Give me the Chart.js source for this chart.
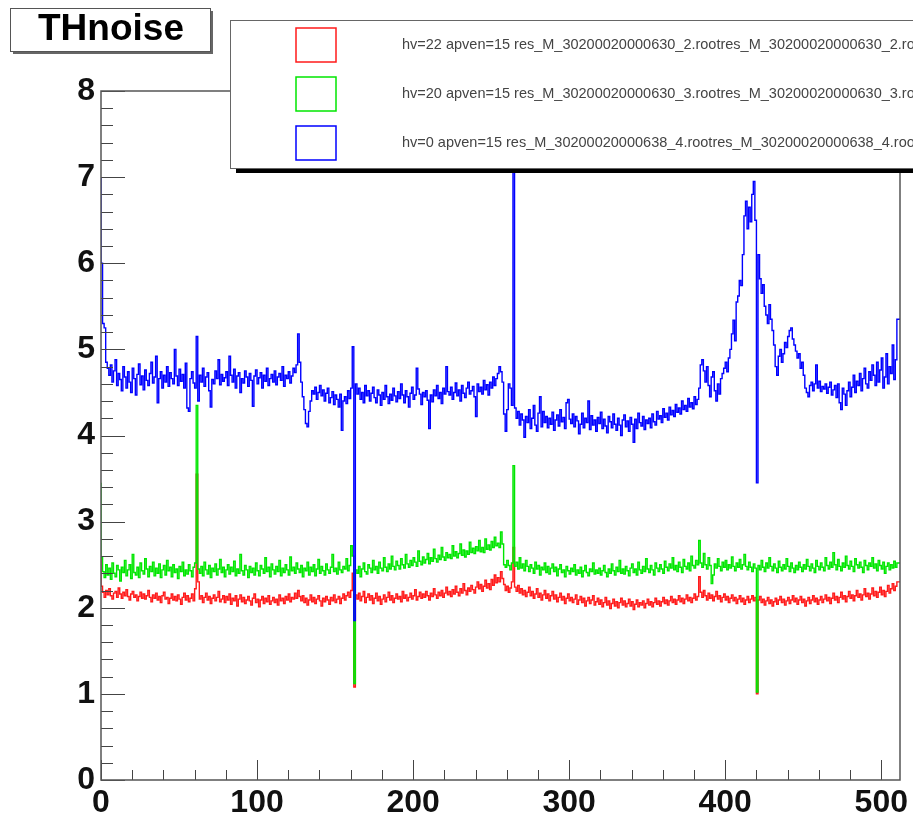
<!DOCTYPE html>
<html><head><meta charset="utf-8">
<script src="https://cdn.jsdelivr.net/npm/chart.js@4.4.1/dist/chart.umd.min.js"></script>
<style>html,body{margin:0;padding:0;background:#fff;overflow:hidden;}#wrap{position:absolute;left:0;top:0;width:913px;height:814px;}</style>
</head><body><div id="wrap"><canvas id="c" width="913" height="814"></canvas></div>
<script>
const titleText = "THnoise";
const legendLabels = [
  "hv=22 apven=15 res_M_30200020000630_2.rootres_M_30200020000630_2.root",
  "hv=20 apven=15 res_M_30200020000630_3.rootres_M_30200020000630_3.root",
  "hv=0 apven=15 res_M_30200020000638_4.rootres_M_30200020000638_4.root"
];
const xTickValues = [0,100,200,300,400,500];
const yTickValues = [0,1,2,3,4,5,6,7,8];

const redValues = [
2.60,2.25,2.18,2.12,2.20,2.15,2.22,2.14,2.10,2.17,2.19,2.12,2.23,2.16,2.11,2.18,
2.14,2.21,2.13,2.09,2.16,2.19,2.12,2.15,2.08,2.13,2.18,2.11,2.16,2.10,2.14,2.20,
2.12,2.07,2.15,2.11,2.17,2.09,2.13,2.06,2.14,2.18,2.10,2.12,2.05,2.11,2.16,2.09,
2.13,2.08,2.15,2.10,2.04,2.12,2.17,2.09,2.14,2.07,2.11,2.16,2.08,2.22,3.55,2.30,
2.10,2.14,2.06,2.12,2.17,2.09,2.13,2.05,2.11,2.15,2.08,2.12,2.19,2.07,2.10,2.14,
2.06,2.13,2.09,2.16,2.04,2.11,2.08,2.14,2.02,2.10,2.15,2.07,2.12,2.05,2.09,2.13,
2.08,2.03,2.11,2.16,2.06,2.10,2.01,2.09,2.13,2.05,2.11,2.07,2.14,2.04,2.08,2.12,
2.06,2.10,2.03,2.15,2.08,2.11,2.05,2.13,2.09,2.16,2.07,2.12,2.10,2.17,2.11,2.20,
2.13,2.08,2.14,2.06,2.11,2.03,2.09,2.15,2.07,2.12,2.05,2.10,2.14,2.08,2.02,2.11,
2.07,2.13,2.09,2.04,2.12,2.08,2.15,2.06,2.10,2.13,2.05,2.11,2.16,2.09,2.14,2.18,
2.12,2.20,2.40,1.08,2.15,2.10,2.17,2.08,2.13,2.19,2.06,2.12,2.16,2.09,2.14,2.05,
2.11,2.17,2.08,2.13,2.04,2.10,2.15,2.07,2.12,2.18,2.09,2.14,2.06,2.11,2.16,2.10,
2.13,2.07,2.19,2.11,2.15,2.08,2.12,2.17,2.10,2.14,2.21,2.09,2.13,2.18,2.11,2.16,
2.12,2.19,2.14,2.09,2.17,2.13,2.22,2.15,2.11,2.18,2.14,2.20,2.12,2.17,2.24,2.15,
2.19,2.13,2.21,2.16,2.25,2.18,2.14,2.22,2.17,2.28,2.20,2.15,2.23,2.19,2.26,2.21,
2.17,2.24,2.30,2.22,2.27,2.19,2.25,2.32,2.23,2.28,2.21,2.33,2.26,2.38,2.29,2.35,
2.30,2.42,2.34,2.27,2.20,2.25,2.18,2.23,2.30,2.70,2.24,2.19,2.26,2.17,2.22,2.15,
2.20,2.13,2.18,2.24,2.14,2.19,2.11,2.16,2.22,2.12,2.17,2.09,2.15,2.20,2.11,2.16,
2.08,2.14,2.19,2.10,2.15,2.07,2.12,2.17,2.09,2.13,2.05,2.11,2.16,2.08,2.12,2.06,
2.10,2.15,2.04,2.09,2.13,2.06,2.11,2.02,2.08,2.12,2.05,2.09,2.14,2.03,2.07,2.11,
2.04,2.09,2.01,2.06,2.12,2.03,2.08,1.99,2.05,2.10,2.02,2.07,2.00,2.06,2.11,2.03,
2.08,2.01,2.05,2.10,2.02,2.07,1.98,2.04,2.09,2.01,2.06,2.03,2.08,2.00,2.05,2.10,
2.03,2.07,2.01,2.06,2.11,2.04,2.08,2.02,2.07,2.12,2.05,2.09,2.03,2.08,2.13,2.06,
2.10,2.04,2.09,2.14,2.07,2.11,2.05,2.10,2.15,2.08,2.12,2.06,2.11,2.16,2.09,2.13,
2.36,2.18,2.12,2.20,2.14,2.09,2.17,2.11,2.15,2.08,2.13,2.19,2.10,2.14,2.07,2.12,
2.16,2.09,2.13,2.06,2.11,2.15,2.08,2.12,2.05,2.10,2.14,2.07,2.11,2.04,2.09,2.13,
2.06,2.10,2.14,2.08,2.12,1.00,2.09,2.13,2.06,2.10,2.03,2.08,2.12,2.05,2.09,2.02,
2.07,2.11,2.04,2.09,2.13,2.06,2.10,2.03,2.08,2.12,2.05,2.09,2.14,2.07,2.11,2.04,
2.09,2.13,2.06,2.10,2.02,2.08,2.12,2.05,2.09,2.14,2.07,2.11,2.04,2.09,2.13,2.06,
2.10,2.15,2.08,2.12,2.05,2.11,2.17,2.09,2.13,2.06,2.12,2.18,2.10,2.14,2.07,2.13,
2.19,2.11,2.15,2.08,2.14,2.20,2.12,2.16,2.09,2.15,2.22,2.13,2.17,2.10,2.16,2.23,
2.14,2.19,2.12,2.18,2.24,2.15,2.20,2.13,2.19,2.26,2.17,2.22,2.28,2.20,2.25,2.30
];

const greenValues = [
3.45,2.58,2.42,2.35,2.50,2.38,2.46,2.33,2.52,2.40,2.36,2.49,2.44,2.31,2.47,2.41,
2.55,2.37,2.44,2.50,2.34,2.62,2.41,2.38,2.47,2.35,2.52,2.43,2.39,2.57,2.45,2.36,
2.48,2.42,2.53,2.37,2.46,2.40,2.51,2.35,2.44,2.49,2.38,2.55,2.43,2.47,2.36,2.50,
2.41,2.45,2.34,2.48,2.42,2.53,2.37,2.44,2.39,2.50,2.43,2.36,2.47,2.52,4.35,2.45,
2.40,2.48,2.37,2.53,2.44,2.39,2.49,2.35,2.46,2.42,2.51,2.38,2.45,2.56,2.41,2.47,
2.36,2.44,2.50,2.39,2.47,2.42,2.54,2.37,2.45,2.40,2.62,2.43,2.38,2.49,2.44,2.35,
2.48,2.41,2.46,2.38,2.52,2.43,2.37,2.49,2.45,2.40,2.58,2.42,2.47,2.36,2.51,2.44,
2.39,2.48,2.42,2.55,2.37,2.46,2.41,2.50,2.44,2.38,2.59,2.43,2.47,2.40,2.52,2.45,
2.41,2.49,2.36,2.46,2.43,2.53,2.38,2.47,2.42,2.50,2.37,2.45,2.56,2.40,2.48,2.43,
2.38,2.51,2.44,2.40,2.47,2.62,2.42,2.46,2.39,2.53,2.44,2.41,2.48,2.45,2.57,2.43,
2.49,2.72,2.60,1.12,2.44,2.40,2.48,2.36,2.45,2.52,2.42,2.39,2.50,2.46,2.41,2.55,
2.44,2.48,2.40,2.53,2.46,2.43,2.58,2.47,2.42,2.51,2.45,2.60,2.48,2.44,2.54,2.49,
2.45,2.57,2.50,2.46,2.62,2.51,2.47,2.55,2.49,2.58,2.53,2.48,2.66,2.54,2.50,2.59,
2.52,2.56,2.63,2.51,2.58,2.54,2.68,2.57,2.53,2.61,2.56,2.70,2.59,2.55,2.64,2.58,
2.62,2.57,2.72,2.60,2.65,2.58,2.63,2.74,2.61,2.67,2.59,2.66,2.62,2.76,2.64,2.69,
2.63,2.71,2.66,2.78,2.65,2.70,2.64,2.80,2.68,2.73,2.67,2.77,2.70,2.82,2.72,2.75,
2.70,2.88,2.74,2.50,2.47,2.55,2.49,2.44,2.52,3.65,2.48,2.53,2.45,2.58,2.46,2.51,
2.43,2.55,2.48,2.42,2.50,2.46,2.40,2.53,2.45,2.49,2.38,2.47,2.44,2.52,2.41,2.48,
2.39,2.46,2.51,2.42,2.47,2.37,2.45,2.50,2.41,2.44,2.36,2.48,2.43,2.39,2.46,2.42,
2.50,2.38,2.44,2.40,2.47,2.36,2.43,2.49,2.41,2.37,2.45,2.42,2.52,2.39,2.44,2.40,
2.46,2.38,2.43,2.49,2.41,2.36,2.45,2.40,2.51,2.43,2.38,2.47,2.42,2.55,2.40,2.45,
2.39,2.48,2.43,2.37,2.46,2.51,2.41,2.45,2.38,2.53,2.44,2.40,2.48,2.42,2.57,2.45,
2.41,2.49,2.44,2.38,2.52,2.46,2.42,2.50,2.45,2.40,2.54,2.47,2.43,2.51,2.46,2.58,
2.44,2.49,2.42,2.53,2.47,2.41,2.56,2.48,2.45,2.52,2.43,2.60,2.49,2.46,2.55,2.50,
2.78,2.52,2.47,2.63,2.50,2.45,2.58,2.49,2.28,2.38,2.51,2.46,2.57,2.48,2.43,2.53,
2.47,2.55,2.44,2.50,2.46,2.59,2.48,2.43,2.52,2.47,2.56,2.45,2.50,2.62,2.48,2.44,
2.53,2.47,2.42,2.51,2.46,1.02,2.49,2.44,2.55,2.47,2.42,2.52,2.46,2.58,2.48,2.43,
2.51,2.46,2.41,2.54,2.47,2.43,2.50,2.45,2.57,2.48,2.42,2.52,2.46,2.41,2.49,2.44,
2.53,2.47,2.42,2.50,2.45,2.56,2.48,2.43,2.51,2.46,2.41,2.55,2.48,2.44,2.52,2.47,
2.43,2.58,2.49,2.45,2.53,2.47,2.64,2.50,2.44,2.56,2.48,2.43,2.52,2.47,2.60,2.49,
2.45,2.54,2.48,2.42,2.57,2.50,2.46,2.53,2.47,2.41,2.55,2.49,2.44,2.52,2.48,2.58,
2.46,2.51,2.43,2.55,2.49,2.45,2.53,2.40,2.48,2.52,2.44,2.50,2.46,2.54,2.47,2.52
];

const blueValues = [
7.00,6.00,5.30,5.25,4.85,4.78,4.70,4.82,4.62,4.75,4.88,4.58,4.72,4.65,4.52,4.80,
4.68,4.55,4.74,4.62,4.50,4.78,4.66,4.47,4.71,4.83,4.59,4.69,4.53,4.76,4.64,4.58,
4.72,4.85,4.61,4.68,4.92,4.38,4.66,4.74,4.55,4.70,4.62,4.80,4.57,4.73,4.66,4.60,
5.00,4.69,4.58,4.77,4.63,4.71,4.55,4.84,4.32,4.28,4.66,4.74,4.61,4.55,5.15,4.40,
4.70,4.62,4.78,4.57,4.68,4.73,4.52,4.33,4.65,4.60,4.75,4.66,4.88,4.59,4.71,4.63,
4.67,4.74,4.58,4.92,4.70,4.62,4.77,4.55,4.69,4.73,4.50,4.66,4.61,4.75,4.68,4.57,
4.72,4.64,4.34,4.69,4.76,4.60,4.67,4.73,4.55,4.70,4.63,4.78,4.58,4.66,4.71,4.62,
4.75,4.59,4.68,4.72,4.64,4.80,4.57,4.70,4.66,4.74,4.61,4.69,4.78,4.73,4.82,5.18,
4.85,4.62,4.45,4.30,4.14,4.10,4.28,4.40,4.52,4.48,4.56,4.42,4.50,4.58,4.46,4.53,
4.40,4.49,4.55,4.38,4.44,4.51,4.36,4.47,4.42,4.33,4.48,4.06,4.40,4.45,4.37,4.52,
4.43,4.55,5.03,1.85,4.60,4.48,4.55,4.42,4.50,4.38,4.58,4.46,4.52,4.40,4.49,4.56,
4.44,4.38,4.53,4.47,4.35,4.50,4.42,4.58,4.45,4.37,4.48,4.41,4.55,4.46,4.39,4.51,
4.43,4.60,4.47,4.38,4.52,4.45,4.33,4.49,4.56,4.42,4.47,4.78,4.54,4.48,4.36,4.50,
4.45,4.52,4.41,4.08,4.47,4.39,4.53,4.46,4.58,4.43,4.50,4.37,4.55,4.48,4.80,4.51,
4.47,4.56,4.42,4.50,4.61,4.46,4.53,4.40,4.58,4.49,4.44,4.55,4.62,4.48,4.52,4.57,
4.45,4.22,4.60,4.51,4.56,4.48,4.64,4.53,4.59,4.47,4.62,4.55,4.68,4.58,4.66,4.72,
4.80,4.74,4.62,4.25,4.05,4.30,4.60,4.55,4.35,7.60,4.32,4.20,4.28,4.12,4.25,4.18,
3.98,4.22,4.15,4.30,4.08,4.20,4.35,4.12,4.05,4.26,4.45,4.10,4.28,4.15,4.22,4.09,
4.20,4.13,4.27,4.06,4.18,4.24,4.11,4.30,4.16,4.21,4.08,4.38,4.42,4.19,4.14,4.25,
4.10,4.22,4.17,4.02,4.13,4.26,4.09,4.20,4.15,4.40,4.07,4.23,4.12,4.18,4.05,4.21,
4.14,4.27,4.08,4.19,4.11,4.03,4.22,4.16,4.09,4.25,4.13,4.06,4.20,4.12,4.00,4.18,
4.24,4.10,4.17,4.05,4.21,4.13,3.92,4.19,4.08,4.26,4.15,4.11,4.22,4.07,4.18,4.14,
4.20,4.09,4.25,4.16,4.12,4.28,4.19,4.23,4.15,4.31,4.21,4.26,4.18,4.33,4.24,4.29,
4.22,4.36,4.27,4.32,4.25,4.40,4.30,4.35,4.28,4.43,4.33,4.38,4.31,4.45,4.36,4.42,
4.55,4.82,4.88,4.75,4.62,4.80,4.58,4.45,4.68,4.74,4.52,4.40,4.60,4.48,4.66,4.72,
4.78,4.85,4.74,4.90,5.00,5.18,5.34,5.10,5.55,5.62,5.80,5.74,6.10,6.55,6.72,6.40,
6.65,6.48,6.80,6.95,6.50,3.45,6.10,5.82,5.65,5.75,5.50,5.40,5.30,5.52,5.35,5.22,
5.05,4.80,4.70,4.92,5.00,4.85,4.95,5.08,5.02,5.15,5.22,5.25,5.12,5.05,4.98,4.90,
4.95,4.78,4.85,4.70,4.55,4.50,4.45,4.58,4.62,4.52,4.60,4.82,4.55,4.63,4.51,4.57,
4.54,4.60,4.49,4.56,4.62,4.47,4.53,4.58,4.44,4.60,4.38,4.30,4.55,4.48,4.35,4.52,
4.62,4.45,4.56,4.70,4.50,4.63,4.58,4.72,4.52,4.66,4.78,4.60,4.55,4.74,4.64,4.82,
4.70,4.58,4.85,4.62,4.76,4.90,4.55,4.68,4.95,4.60,4.80,4.72,5.05,4.65,4.88,5.35
];

const seriesColors = ['#ff1a1a', '#00e600', '#0000ff'];

function toSteps(vals) {
  const pts = vals.map((v, i) => ({x: i, y: v}));
  pts.push({x: vals.length, y: vals[vals.length - 1]});
  return pts;
}

const decor = {
  id: 'rootDecor',
  afterDatasetsDraw(chart) {
    const ctx = chart.ctx, a = chart.chartArea;
    const xs = chart.scales.x, ys = chart.scales.y;
    ctx.save();
    ctx.strokeStyle = '#444';
    ctx.lineWidth = 1;
    for (let v = 0; v <= 512; v += 20) {
      const px = Math.round(xs.getPixelForValue(v)) + 0.5;
      const major = v % 100 === 0;
      ctx.beginPath();
      ctx.moveTo(px, a.bottom);
      ctx.lineTo(px, a.bottom - (major ? 20 : 10));
      ctx.stroke();
    }
    for (let k = 0; k <= 40; k++) {
      const v = k * 0.2;
      const py = Math.round(ys.getPixelForValue(v)) + 0.5;
      const major = k % 5 === 0;
      ctx.beginPath();
      ctx.moveTo(a.left, py);
      ctx.lineTo(a.left + (major ? 24 : 12), py);
      ctx.stroke();
    }
    ctx.strokeStyle = '#555';
    ctx.lineWidth = 1.5;
    ctx.strokeRect(a.left, a.top, a.right - a.left, a.bottom - a.top);
    ctx.restore();
  },
  afterDraw(chart) {
    const ctx = chart.ctx;
    ctx.save();
    ctx.fillStyle = '#666';
    ctx.fillRect(13, 11, 200, 43);
    ctx.fillStyle = '#fff';
    ctx.fillRect(10, 8, 200, 43);
    ctx.strokeStyle = '#555';
    ctx.lineWidth = 1;
    ctx.strokeRect(10.5, 8.5, 200, 43);
    ctx.fillStyle = '#000';
    ctx.font = 'bold 37px "Liberation Sans", Arial, sans-serif';
    ctx.textAlign = 'center';
    ctx.textBaseline = 'middle';
    ctx.fillText(titleText, 111, 30);
    ctx.fillStyle = '#000';
    ctx.fillRect(236, 26, 700, 147);
    ctx.fillStyle = '#fff';
    ctx.fillRect(230, 20, 700, 148);
    ctx.strokeStyle = '#666';
    ctx.lineWidth = 1;
    ctx.strokeRect(230.5, 20.5, 700, 148);
    const rowY = [45, 94, 143];
    ctx.font = '14.5px "Liberation Sans", Arial, sans-serif';
    ctx.textAlign = 'left';
    ctx.textBaseline = 'middle';
    for (let i = 0; i < 3; i++) {
      ctx.strokeStyle = seriesColors[i];
      ctx.lineWidth = 1.5;
      ctx.strokeRect(296, rowY[i] - 17, 40, 34);
      ctx.fillStyle = '#444';
      ctx.fillText(legendLabels[i], 402, rowY[i]);
    }
    ctx.restore();
  }
};

const tickFont = {family: '"Liberation Sans", Arial, sans-serif', size: 32, weight: 'bold'};

new Chart(document.getElementById('c'), {
  type: 'line',
  data: {
    datasets: [
      {label: legendLabels[0], data: toSteps(redValues), borderColor: seriesColors[0], order: 2},
      {label: legendLabels[1], data: toSteps(greenValues), borderColor: seriesColors[1], order: 1},
      {label: legendLabels[2], data: toSteps(blueValues), borderColor: seriesColors[2], order: 0}
    ].map(d => Object.assign(d, {stepped: 'after', borderWidth: 1.4, pointRadius: 0, fill: false, tension: 0}))
  },
  options: {
    responsive: false,
    animation: false,
    events: [],
    layout: {padding: {left: 0, top: 91, right: 13, bottom: 0}},
    plugins: {legend: {display: false}, tooltip: {enabled: false}, title: {display: false}},
    scales: {
      x: {
        type: 'linear', min: 0, max: 512,
        afterBuildTicks: s => { s.ticks = xTickValues.map(v => ({value: v})); },
        afterFit: s => { s.height = 34; },
        grid: {display: false, drawTicks: false},
        border: {display: false},
        ticks: {font: tickFont, color: '#111', padding: 4, autoSkip: false, maxRotation: 0}
      },
      y: {
        type: 'linear', min: 0, max: 8,
        afterBuildTicks: s => { s.ticks = yTickValues.map(v => ({value: v})); },
        afterFit: s => { s.width = 101; },
        grid: {display: false, drawTicks: false},
        border: {display: false},
        ticks: {font: tickFont, color: '#111', padding: 6}
      }
    }
  },
  plugins: [decor]
});
</script>
</body></html>
